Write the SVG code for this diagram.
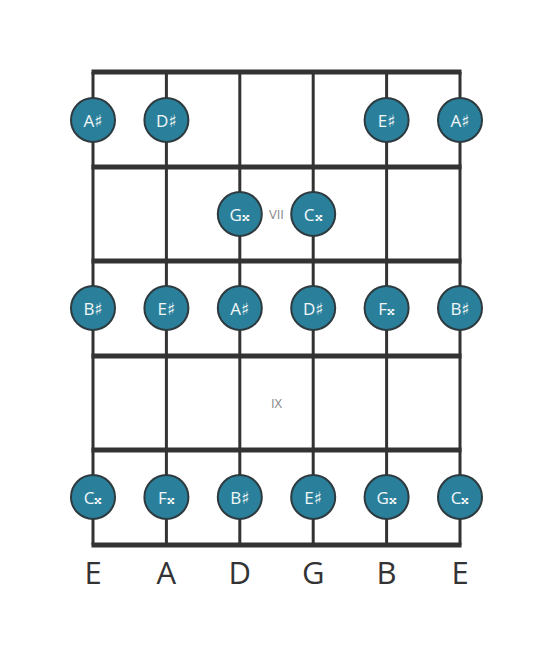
<svg xmlns="http://www.w3.org/2000/svg" width="553" height="656" viewBox="0 0 553 656">
<style>
.str{stroke:#333;stroke-width:3;fill:none}
.fret{stroke:#333;stroke-width:5;fill:none}
.note circle{fill:#2a809b;stroke:#2d3a3f;stroke-width:2}
.note text{fill:#f2f7f8;font-family:"Open Sans","DejaVu Sans",sans-serif;font-size:17px;text-anchor:middle;dominant-baseline:central}
.lab{fill:#333;font-family:"Open Sans","DejaVu Sans",sans-serif;font-size:31px;text-anchor:middle}
.pos{fill:#888;font-family:"Open Sans","DejaVu Sans",sans-serif;font-size:13px;text-anchor:middle;dominant-baseline:central}
</style>
<rect width="553" height="656" fill="#fff"/>
<g id="connectors">
<line class="str" x1="93" y1="72" x2="93" y2="545"/>
<line class="str" x1="166.4" y1="72" x2="166.4" y2="545"/>
<line class="str" x1="239.8" y1="72" x2="239.8" y2="545"/>
<line class="str" x1="313.2" y1="72" x2="313.2" y2="545"/>
<line class="str" x1="386.6" y1="72" x2="386.6" y2="545"/>
<line class="str" x1="460" y1="72" x2="460" y2="545"/>
<line class="fret" x1="91.5" y1="72" x2="461.5" y2="72"/>
<line class="fret" x1="91.5" y1="167" x2="461.5" y2="167"/>
<line class="fret" x1="91.5" y1="261" x2="461.5" y2="261"/>
<line class="fret" x1="91.5" y1="356" x2="461.5" y2="356"/>
<line class="fret" x1="91.5" y1="450" x2="461.5" y2="450"/>
<line class="fret" x1="91.5" y1="545" x2="461.5" y2="545"/>
</g>
<text class="pos" x="276.5" y="214">VII</text>
<text class="pos" x="276.5" y="403">IX</text>
<g id="n1" class="note"><circle cx="93" cy="120" r="22"/><text x="93" y="120">A♯</text></g>
<g id="n2" class="note"><circle cx="166.4" cy="120" r="22"/><text x="166.4" y="120">D♯</text></g>
<g id="n3" class="note"><circle cx="386.6" cy="120" r="22"/><text x="386.6" y="120">E♯</text></g>
<g id="n4" class="note"><circle cx="460" cy="120" r="22"/><text x="460" y="120">A♯</text></g>
<g id="n5" class="note"><circle cx="239.8" cy="214" r="22"/><text x="239.8" y="214">G𝄪</text></g>
<g id="n6" class="note"><circle cx="313.2" cy="214" r="22"/><text x="313.2" y="214">C𝄪</text></g>
<g id="n7" class="note"><circle cx="93" cy="308" r="22"/><text x="93" y="308">B♯</text></g>
<g id="n8" class="note"><circle cx="166.4" cy="308" r="22"/><text x="166.4" y="308">E♯</text></g>
<g id="n9" class="note"><circle cx="239.8" cy="308" r="22"/><text x="239.8" y="308">A♯</text></g>
<g id="n10" class="note"><circle cx="313.2" cy="308" r="22"/><text x="313.2" y="308">D♯</text></g>
<g id="n11" class="note"><circle cx="386.6" cy="308" r="22"/><text x="386.6" y="308">F𝄪</text></g>
<g id="n12" class="note"><circle cx="460" cy="308" r="22"/><text x="460" y="308">B♯</text></g>
<g id="n13" class="note"><circle cx="93" cy="497" r="22"/><text x="93" y="497">C𝄪</text></g>
<g id="n14" class="note"><circle cx="166.4" cy="497" r="22"/><text x="166.4" y="497">F𝄪</text></g>
<g id="n15" class="note"><circle cx="239.8" cy="497" r="22"/><text x="239.8" y="497">B♯</text></g>
<g id="n16" class="note"><circle cx="313.2" cy="497" r="22"/><text x="313.2" y="497">E♯</text></g>
<g id="n17" class="note"><circle cx="386.6" cy="497" r="22"/><text x="386.6" y="497">G𝄪</text></g>
<g id="n18" class="note"><circle cx="460" cy="497" r="22"/><text x="460" y="497">C𝄪</text></g>
<g id="labels">
<text class="lab" x="93" y="584">E</text>
<text class="lab" x="166.4" y="584">A</text>
<text class="lab" x="239.8" y="584">D</text>
<text class="lab" x="313.2" y="584">G</text>
<text class="lab" x="386.6" y="584">B</text>
<text class="lab" x="460" y="584">E</text>
</g>
</svg>
